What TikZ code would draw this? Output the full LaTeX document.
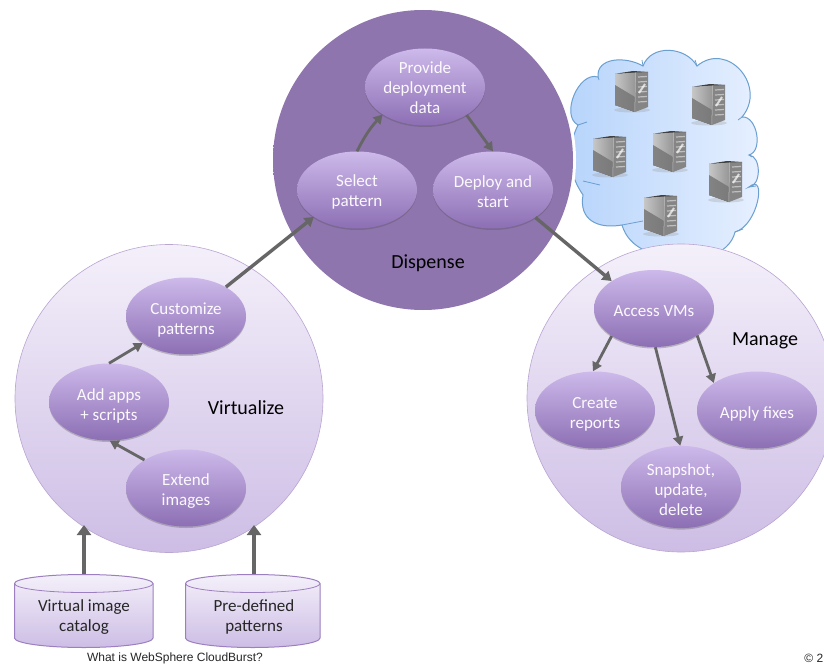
\documentclass[tikz,border=0pt]{standalone}
\usepackage{fontspec}
\setmainfont{Carlito}
\newfontfamily\arialfont{Liberation Sans}
\usetikzlibrary{shapes.geometric,arrows.meta,shadows}
\definecolor{arrowgray}{HTML}{666666}
\definecolor{dispfill}{HTML}{8E75AE}
\definecolor{circtop}{HTML}{F4F0FA}
\definecolor{circbot}{HTML}{CDBDE5}
\definecolor{elltop}{HTML}{CDB9EA}
\definecolor{ellbot}{HTML}{8C6FB4}
\definecolor{edgepurple}{HTML}{9C7FC0}
\definecolor{cloudedge}{HTML}{6A9FD0}
\definecolor{cloudleft}{HTML}{B5D3FB}
\definecolor{cloudright}{HTML}{E8F1FF}
\tikzset{
  phase/.style={circle,inner sep=0pt,minimum size=308pt,top color=circtop,bottom color=circbot,draw=edgepurple!70,line width=.6pt},
  step node/.style={ellipse,inner sep=0pt,minimum width=120pt,minimum height=77pt,top color=elltop,bottom color=ellbot,
    text=white!92!elltop,align=center,font=\fontsize{17}{20}\selectfont,
    drop shadow={shadow xshift=0pt,shadow yshift=-1.5pt,opacity=.3,fill=black!70}},
  store/.style={inner sep=0pt,minimum width=130pt,minimum height=86pt,align=center,
    font=\fontsize{17}{20}\selectfont,text=black!85},
  store body/.style={top color=circtop,bottom color=circbot,draw=edgepurple,line width=1pt},
  phase label/.style={font=\fontsize{20}{22}\selectfont,text=black},
  flow/.style={draw=arrowgray,line width=3.4pt,-{Triangle[width=11pt,length=9pt]}},
  flow thin/.style={draw=arrowgray,line width=2.8pt,-{Triangle[width=10pt,length=9pt]}},
  flow thick/.style={draw=arrowgray,line width=4pt,-{Triangle[width=14pt,length=10pt]}},
  foot/.style={font=\arialfont\fontsize{12}{13}\selectfont,text=black!85,inner sep=0pt},
}
\newcommand{\drumat}[2]{% left x, right x
  \path[store body] (#1,583.5) arc[x radius={(#2-#1)/2},y radius=9,start angle=180,end angle=360]
    -- (#2,638) arc[x radius={(#2-#1)/2},y radius=9.5,start angle=0,end angle=180] -- cycle;
  \draw[edgepurple,line width=.8pt] (#1,583.5) arc[x radius={(#2-#1)/2},y radius=9,start angle=180,end angle=0];
}
\newcommand{\serverat}[2]{%
  \begin{scope}[shift={(#1,#2)}]
    \fill[black!40,opacity=.3] (17,39) ellipse (18 and 2.5);
    \fill[left color=black!22,right color=black!42] (0,3) -- (21,1) -- (20,41) -- (0,34) -- cycle;
    \fill[black!55,opacity=.8] (0,14) -- (20,26) -- (20,41) -- (0,34) -- cycle;
    \fill[black!48] (21,1) -- (33,1) -- (33,36) -- (20,41) -- cycle;
    \fill[black!75] (2,2.5) -- (18,0) -- (33,1) -- (21,1.5) -- cycle;
    \foreach \yy in {6,11,16,21,26,31}
      \draw[black!25,line width=1.2pt] (23,\yy) -- (32,\yy-.5);
    \draw[white,opacity=.7,line width=2pt] (24,22) -- (30,13);
    \fill[black!25] (20.5,1.5) -- (21,1) -- (20,41) -- (19.5,40.5) -- cycle;
  \end{scope}}
\begin{document}
\begin{tikzpicture}[x=1pt,y=-1pt]
\useasboundingbox (0,0) rectangle (824,666);
\clip (0,0) rectangle (824,666);
\fill[white] (0,0) rectangle (824,666);

% cloud
\draw[draw=cloudedge,line width=1pt,left color=cloudleft,right color=cloudright]
  (578,125) to[bend left=85] (598,77) to[out=95,in=150,looseness=1.1] (643,66)
  to[out=70,in=120,looseness=1.1] (697,66)
  to[out=40,in=50,looseness=1.5] (742,117) to[bend left=85] (749,155) to[bend left=85] (749,187)
  to[out=40,in=15,looseness=1.3] (735,232) to[bend left=60] (677,250) to[bend left=50] (622,225)
  to[out=190,in=260,looseness=1.3] (583,195) to[bend left=30] cycle;
\draw[cloudedge,line width=.8pt]
  (578,125) -- (587,122) (598,77) -- (599,80) (643,66) -- (642,60) (697,66) -- (695,60)
  (742,117) -- (738,120) (749,155) -- (752,157) (749,187) -- (756,186)
  (735,232) -- (743,229) (622,225) -- (643,221) (583,181) -- (600,185);
\serverat{615}{71}
\serverat{692}{84}
\serverat{593}{136}
\serverat{653}{131}
\serverat{709}{161}
\serverat{644}{195}

% phases
\fill[white] (423,160) circle (153);
\node[phase,draw=none,top color=dispfill,bottom color=dispfill,minimum size=300pt] (dispense) at (423,160) {};
\node[phase] (virtualize) at (169,398.5) {};
\node[phase] (manage) at (681,398) {};

\node[phase label] (lblV) at (246,408) {Virtualize};
\node[phase label] (lblD) at (428,263) {Dispense};
\node[phase label] (lblM) at (765,341) {Manage};

% steps
\node[step node] (custom) at (186,316) {\\[0pt]Customize\\patterns};
\node[step node] (addapps) at (109,402) {\\[0pt]Add apps\\+ scripts};
\node[step node] (extend) at (186,488) {\\[-2pt]Extend\\images};
\node[step node] (provide) at (425,87) {\\[-6pt]Provide\\deployment\\data};
\node[step node] (select) at (357,190) {\\[-4pt]Select\\pattern};
\node[step node] (deploy) at (493,190) {\\[-4pt]Deploy and\\start};
\node[step node] (access) at (654,308.5) {\\[-4pt]Access VMs};
\node[step node] (reports) at (595,410) {\\[-1pt]Create\\reports};
\node[step node] (fixes) at (757,410) {\\[0pt]Apply fixes};
\node[step node] (snapshot) at (681,487) {\\[-2pt]Snapshot,\\update,\\delete};

% stores
\drumat{14.5}{153}
\drumat{185.5}{320}
\node[store] (catalog) at (84,617) {Virtual image\\catalog};
\node[store] (predefined) at (254,617) {Pre-defined\\patterns};

% connectors
\coordinate (v1) at (84,525);
\coordinate (v2) at (254,525);
\draw[flow thick] (catalog.north) -- (v1);
\draw[flow thick] (predefined.north) -- (v2);
\draw[flow thin] (extend.146) -- (addapps.-89);
\draw[flow thin] (addapps.north) -- (custom.212);
\draw[flow] (custom.36) -- (select.212);
\draw[flow thin] (select.north) to[bend left=8] (provide.213);
\draw[flow thin] (provide.-34) -- (deploy.north);
\draw[flow] (deploy.-33) -- (access.147);
\draw[flow thin] (access.213) -- (reports.93);
\draw[flow thin] (access.-88) -- (snapshot.91);
\draw[flow thin] (access.-32) -- (fixes.148);

% footer
\node[foot] (foottitle) at (175,658) {What is WebSphere CloudBurst?};
\node[foot,anchor=east] (footcopy) at (823.5,658) {© 2};
\end{tikzpicture}
\end{document}
